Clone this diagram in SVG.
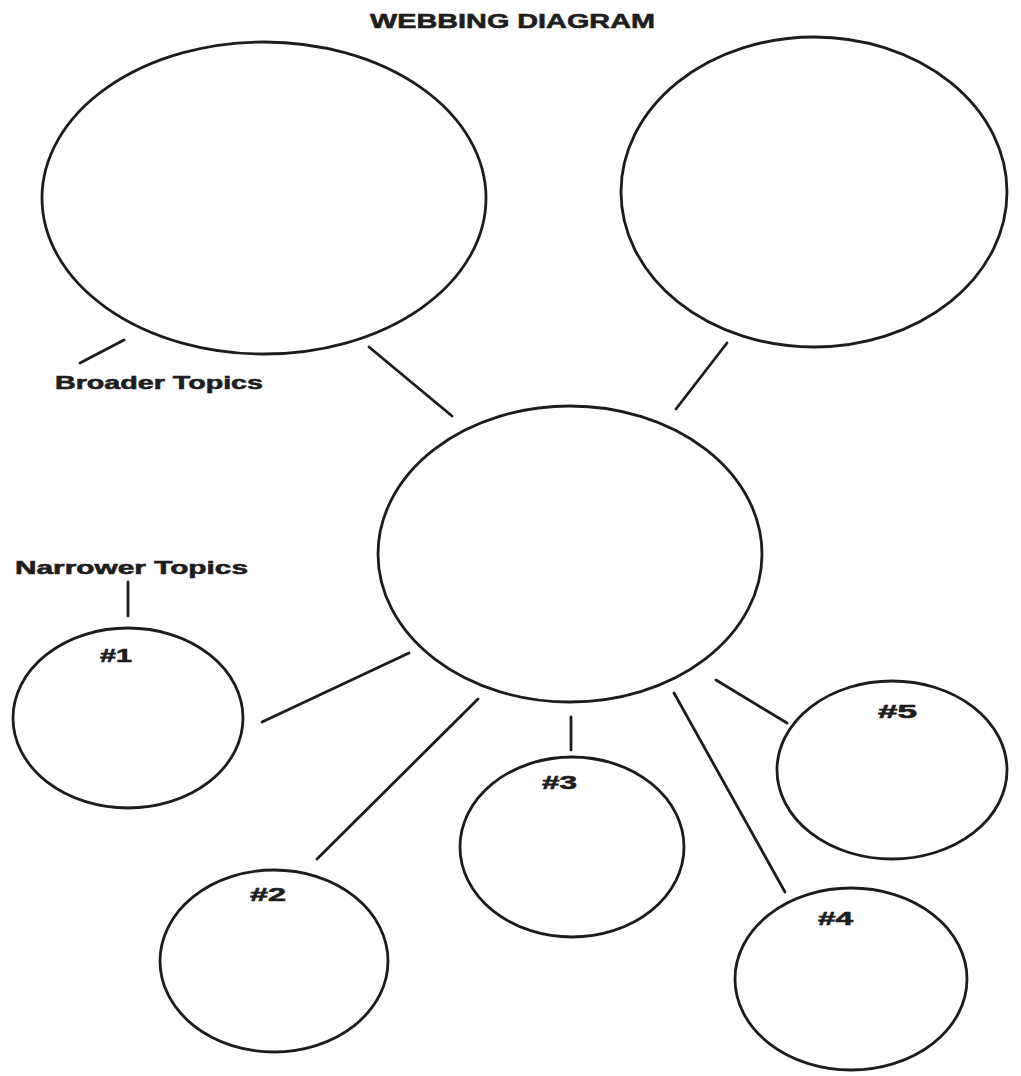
<svg xmlns="http://www.w3.org/2000/svg" width="1021" height="1076" viewBox="0 0 1021 1076">
  <style>
    .node { fill: none; stroke: #1c1c1c; stroke-width: 2.8; }
    .link { stroke: #1c1c1c; stroke-width: 2.8; stroke-linecap: round; fill: none; }
    .lbl { font-family: "Liberation Sans", Arial, sans-serif; font-weight: bold; fill: #1e1e1e; stroke: #1e1e1e; stroke-width: 0.6; }
  </style>
  <rect width="1021" height="1076" fill="#ffffff"/>

  <text class="lbl" x="370" y="28" font-size="21" textLength="285" lengthAdjust="spacingAndGlyphs">WEBBING DIAGRAM</text>

  <!-- broader topics -->
  <g id="broader-left"><ellipse class="node" cx="264" cy="198" rx="222" ry="156"/></g>
  <g id="broader-right"><ellipse class="node" cx="814" cy="192" rx="193" ry="155"/></g>

  <!-- central topic -->
  <g id="center"><ellipse class="node" cx="570" cy="554" rx="192" ry="148"/></g>

  <!-- narrower topics -->
  <g id="n1">
    <ellipse class="node" cx="128" cy="718" rx="115" ry="90"/>
    <text class="lbl" x="100" y="662" font-size="18" textLength="32" lengthAdjust="spacingAndGlyphs">#1</text>
  </g>
  <g id="n2">
    <ellipse class="node" cx="274" cy="961" rx="114" ry="91"/>
    <text class="lbl" x="250" y="901" font-size="18" textLength="36" lengthAdjust="spacingAndGlyphs">#2</text>
  </g>
  <g id="n3">
    <ellipse class="node" cx="572" cy="847" rx="112" ry="90"/>
    <text class="lbl" x="542" y="789" font-size="18" textLength="35" lengthAdjust="spacingAndGlyphs">#3</text>
  </g>
  <g id="n4">
    <ellipse class="node" cx="851" cy="979" rx="116" ry="91"/>
    <text class="lbl" x="818" y="925" font-size="18" textLength="35" lengthAdjust="spacingAndGlyphs">#4</text>
  </g>
  <g id="n5">
    <ellipse class="node" cx="892" cy="770" rx="115" ry="89"/>
    <text class="lbl" x="878" y="718" font-size="18" textLength="39" lengthAdjust="spacingAndGlyphs">#5</text>
  </g>

  <!-- captions -->
  <g id="caption-broader">
    <text class="lbl" x="55" y="389" font-size="19" textLength="208" lengthAdjust="spacingAndGlyphs">Broader Topics</text>
  </g>
  <g id="caption-narrower">
    <text class="lbl" x="15" y="574" font-size="19" textLength="233" lengthAdjust="spacingAndGlyphs">Narrower Topics</text>
  </g>

  <!-- connectors -->
  <g id="connectors">
    <line class="link" x1="80" y1="363" x2="124" y2="340"/>
    <line class="link" x1="128" y1="582" x2="128" y2="616"/>
    <line class="link" x1="369" y1="347" x2="452" y2="416"/>
    <line class="link" x1="727" y1="343" x2="676" y2="409"/>
    <line class="link" x1="409" y1="653" x2="262" y2="722"/>
    <line class="link" x1="478" y1="699" x2="317" y2="859"/>
    <line class="link" x1="571" y1="717" x2="571" y2="750"/>
    <line class="link" x1="674" y1="693" x2="785" y2="892"/>
    <line class="link" x1="716" y1="680" x2="787" y2="723"/>
  </g>
</svg>
